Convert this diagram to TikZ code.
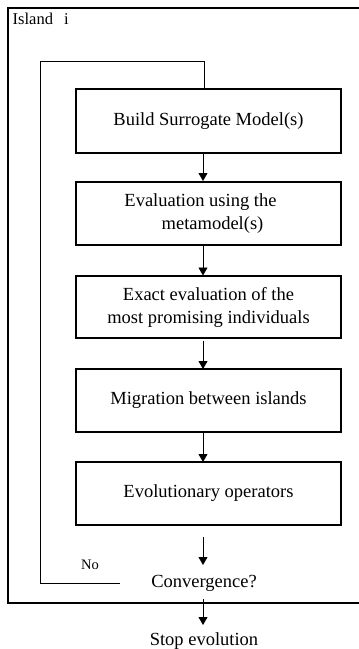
\documentclass[tikz,border=0pt]{standalone}
\usepackage{fontspec}
\setmainfont{Liberation Serif}
\usetikzlibrary{arrows.meta}
\begin{document}
\begin{tikzpicture}[x=1pt,y=-1pt,
  stepbox/.style={draw,line width=1.4pt,minimum width=265pt,inner sep=0pt,align=center,font=\fontsize{18.5}{23}\selectfont},
  lbl/.style={inner sep=0pt,font=\fontsize{18.5}{23}\selectfont},
  arr/.style={-{Triangle[length=8pt,width=9pt]},line width=0.9pt},
  loopline/.style={line width=0.8pt}]
\clip (0,0) rectangle (359,649);
\useasboundingbox (0,0) rectangle (359,649);
\draw[line width=1.8pt] (8,8) rectangle (365,603);
\node[anchor=north west,inner sep=0pt,font=\fontsize{16.5}{20}\selectfont] (isl) at (12.5,12.5) {Island\ \ \,i};
\node[stepbox,minimum height=64pt] (b1) at (208.5,121) {Build Surrogate Model(s)};
\node[stepbox,minimum height=63pt] (b2) at (208.5,213.5) {Evaluation using the\hspace*{16pt}\\\hspace*{8pt}metamodel(s)};
\node[stepbox,minimum height=62pt] (b3) at (208.5,307) {Exact evaluation of the\\most promising individuals};
\node[stepbox,minimum height=63pt] (b4) at (208.5,400.5) {Migration between islands};
\node[stepbox,minimum height=63pt] (b5) at (208.5,493.5) {Evolutionary operators};
\node[lbl] (conv) at (204,583) {Convergence?};
\node[lbl,font=\fontsize{14.5}{17}\selectfont] (no) at (90,565) {No};
\node[lbl] (stop) at (204,641) {Stop evolution};
\coordinate (c0) at (203,537);
\coordinate (s0) at (203,599);
\coordinate (l0) at (120,583);
\draw[arr] (203,153) -- (203,181);
\draw[arr] (203,245) -- (203,275.5);
\draw[arr] (203,340.5) -- (203,369);
\draw[arr] (203,432) -- (203,462);
\draw[arr] (c0) -- (203,565);
\draw[arr] (s0) -- (203,625);
\draw[loopline] (l0) -- (40,583) -- (40,61) -- (204,61) -- (204,89);
\end{tikzpicture}
\end{document}
